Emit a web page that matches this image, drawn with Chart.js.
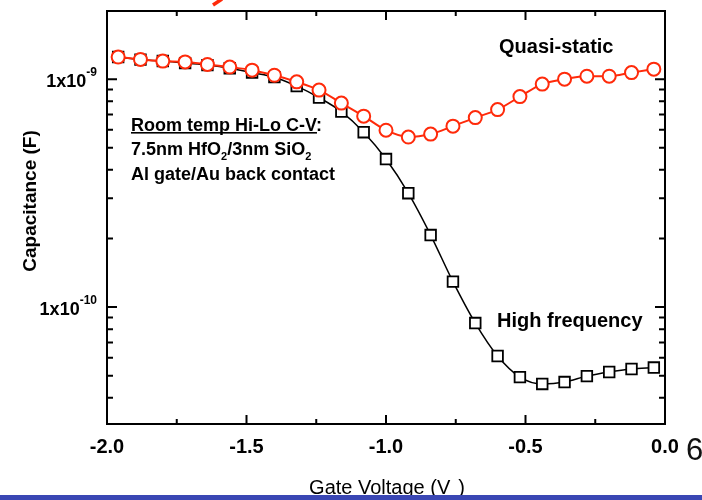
<!DOCTYPE html>
<html><head><meta charset="utf-8">
<script src="https://cdn.jsdelivr.net/npm/chart.js@4/dist/chart.umd.min.js"></script>
<style>html,body{margin:0;padding:0;background:#fff;}#wrap{width:702px;height:500px;position:relative;}</style>
</head><body><div id="wrap"><canvas id="c" width="702" height="500"></canvas></div>
<script>
// ---- data ----
const gateVoltage = [-1.96,-1.88,-1.80,-1.72,-1.64,-1.56,-1.48,-1.40,-1.32,-1.24,-1.16,-1.08,-1.00,-0.92,-0.84,-0.76,-0.68,-0.60,-0.52,-0.44,-0.36,-0.28,-0.20,-0.12,-0.04];
const quasiStatic = [1.25e-9,1.22e-9,1.20e-9,1.19e-9,1.16e-9,1.13e-9,1.095e-9,1.04e-9,9.73e-10,8.95e-10,7.85e-10,6.88e-10,5.97e-10,5.57e-10,5.74e-10,6.22e-10,6.78e-10,7.35e-10,8.38e-10,9.51e-10,1.0e-9,1.03e-9,1.03e-9,1.068e-9,1.106e-9];
const highFrequency = [1.25e-9,1.218e-9,1.20e-9,1.175e-9,1.152e-9,1.117e-9,1.068e-9,1.02e-9,9.32e-10,8.30e-10,7.20e-10,5.85e-10,4.46e-10,3.16e-10,2.07e-10,1.293e-10,8.51e-11,6.10e-11,4.93e-11,4.60e-11,4.69e-11,4.98e-11,5.19e-11,5.35e-11,5.43e-11];
const xTickValues = [-2.0,-1.5,-1.0,-0.5,0.0];
const xTickLabels = ["-2.0","-1.5","-1.0","-0.5","0.0"];
const xMinorTickValues = [-1.75,-1.25,-0.75,-0.25];
const yTickValues = [1e-9,1e-10];
const yTickExponents = ["-9","-10"];
const yMinorMantissas = [2,3,4,5,6,7,8,9];
const yDecades = [1e-11,1e-10,1e-9];
const seriesNames = ["Quasi-static","High frequency"];

const RED = '#ff2a0a';
const FONT = 'Arial, "Liberation Sans", sans-serif';

const decor = {
  id: 'decor',
  beforeDatasetsDraw(chart) {
    const {ctx, chartArea: a, scales: {x, y}} = chart;
    ctx.save();
    ctx.strokeStyle = '#000';
    ctx.lineWidth = 2;
    ctx.strokeRect(a.left, a.top, a.right - a.left, a.bottom - a.top);
    ctx.beginPath();
    const xt = (v, len) => {
      const px = x.getPixelForValue(v);
      ctx.moveTo(px, a.bottom); ctx.lineTo(px, a.bottom - len);
      ctx.moveTo(px, a.top); ctx.lineTo(px, a.top + len);
    };
    xTickValues.forEach(v => xt(v, 9));
    xMinorTickValues.forEach(v => xt(v, 5));
    const yt = (v, len) => {
      const py = y.getPixelForValue(v);
      ctx.moveTo(a.left, py); ctx.lineTo(a.left + len, py);
      ctx.moveTo(a.right, py); ctx.lineTo(a.right - len, py);
    };
    yTickValues.forEach(v => yt(v, 10));
    yDecades.forEach(d => yMinorMantissas.forEach(m => {
      const v = d * m;
      if (v > y.min && v < y.max) yt(v, 6);
    }));
    ctx.stroke();
    ctx.restore();
  },
  afterDraw(chart) {
    const {ctx, chartArea: a, scales: {x, y}} = chart;
    ctx.save();
    ctx.fillStyle = '#000';
    // x tick labels
    ctx.font = 'bold 20px ' + FONT;
    ctx.textAlign = 'center';
    ctx.textBaseline = 'alphabetic';
    xTickValues.forEach((v, i) => ctx.fillText(xTickLabels[i], x.getPixelForValue(v), 453));
    // y tick labels with superscripts
    yTickValues.forEach((v, i) => {
      const py = y.getPixelForValue(v);
      ctx.textAlign = 'right';
      ctx.font = 'bold 12px ' + FONT;
      const sw = ctx.measureText(yTickExponents[i]).width;
      ctx.fillText(yTickExponents[i], 97, py - 3);
      ctx.font = 'bold 18px ' + FONT;
      ctx.fillText('1x10', 97 - sw, py + 8);
    });
    // y title
    ctx.save();
    ctx.translate(31, 201);
    ctx.rotate(-Math.PI / 2);
    ctx.textAlign = 'center';
    ctx.textBaseline = 'middle';
    ctx.font = 'bold 19px ' + FONT;
    ctx.fillText('Capacitance (F)', 0, 0);
    ctx.restore();
    // x title
    ctx.textAlign = 'left';
    ctx.font = '20px ' + FONT;
    const t1 = 'Gate Voltage (V', t2 = ')';
    const w1 = ctx.measureText(t1).width, gap = 8, w2 = ctx.measureText(t2).width;
    let sx = 387 - (w1 + gap + w2) / 2;
    ctx.fillText(t1, sx, 494);
    ctx.fillText(t2, sx + w1 + gap, 494);
    ctx.font = '11px ' + FONT;
    ctx.fillText('g', sx + w1, 502);
    // series labels
    ctx.font = 'bold 20px ' + FONT;
    ctx.fillText(seriesNames[0], 499, 53);
    ctx.fillText(seriesNames[1], 497, 327);
    // annotation
    ctx.font = 'bold 18px ' + FONT;
    const l1 = 'Room temp Hi-Lo C-V';
    const lw = ctx.measureText(l1).width;
    ctx.fillText(l1 + ':', 131, 131);
    ctx.fillRect(131, 132, lw, 1.6);
    let cx = 131;
    const seg = (txt, big, dy) => {
      ctx.font = big ? 'bold 18px ' + FONT : 'bold 11px ' + FONT;
      ctx.fillText(txt, cx, 155 + dy);
      cx += ctx.measureText(txt).width;
    };
    seg('7.5nm HfO', true, 0); seg('2', false, 5); seg('/3nm SiO', true, 0); seg('2', false, 5);
    ctx.font = 'bold 18px ' + FONT;
    ctx.fillText('Al gate/Au back contact', 131, 180);
    // slide number fragment
    ctx.font = '31px ' + FONT;
    ctx.fillStyle = '#111';
    ctx.fillText('6', 686, 460);
    // bottom blue band
    ctx.fillStyle = '#3a47b4';
    ctx.fillRect(0, 495, 702, 5);
    // red fragment at top
    ctx.strokeStyle = RED;
    ctx.lineWidth = 3.5;
    ctx.beginPath();
    ctx.moveTo(213, 5); ctx.lineTo(222, -1);
    ctx.stroke();
    ctx.restore();
  }
};

const toPts = vals => gateVoltage.map((v, i) => ({x: v, y: vals[i]}));

new Chart(document.getElementById('c'), {
  type: 'line',
  data: {
    datasets: [
      {
        label: seriesNames[0], data: toPts(quasiStatic),
        borderColor: RED, borderWidth: 2,
        pointStyle: 'circle', pointRadius: 6.5, pointBorderWidth: 2,
        pointBackgroundColor: '#fff', pointBorderColor: RED,
        cubicInterpolationMode: 'monotone'
      },
      {
        label: seriesNames[1], data: toPts(highFrequency),
        borderColor: '#000', borderWidth: 1.5,
        pointStyle: 'rect', pointRadius: 7.5, pointBorderWidth: 1.8,
        pointBackgroundColor: '#fff', pointBorderColor: '#000',
        cubicInterpolationMode: 'monotone'
      }
    ]
  },
  options: {
    responsive: false,
    animation: false,
    events: [],
    layout: {padding: {left: 107, right: 37, top: 11, bottom: 76}},
    plugins: {legend: {display: false}, tooltip: {enabled: false}},
    scales: {
      x: {type: 'linear', min: -2.0, max: 0.0, display: false},
      y: {type: 'logarithmic', min: 3.07e-11, max: 1.99e-9, display: false}
    }
  },
  plugins: [decor]
});
</script></body></html>
